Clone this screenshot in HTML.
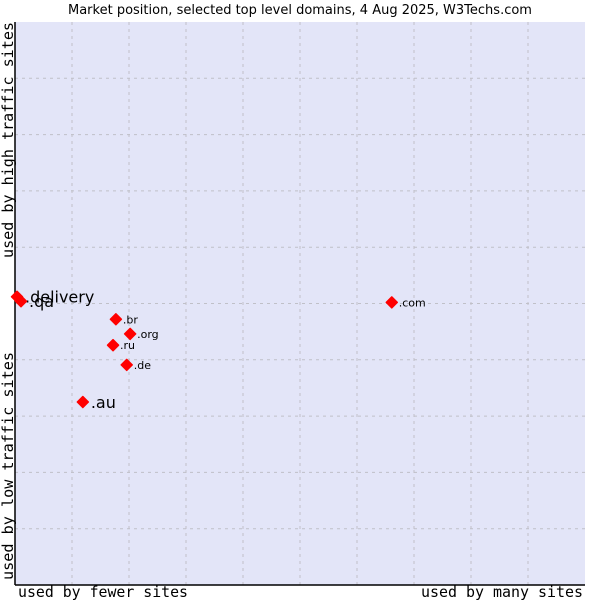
<!DOCTYPE html>
<html><head><meta charset="utf-8"><style>
body{margin:0;background:#fff;}
svg{display:block;font-family:"DejaVu Sans","Liberation Sans",sans-serif;}
</style></head><body>
<svg id="chart" width="600" height="600">
<rect x="0" y="0" width="600" height="600" fill="#fff"/>
<text x="300" y="14" text-anchor="middle" font-size="13" fill="#000">Market position, selected top level domains, 4 Aug 2025, W3Techs.com</text>
<rect x="15" y="22" width="570" height="563" fill="#e3e5f8" stroke="none"/>
<g id="grid"></g>
<line x1="15" y1="22" x2="15" y2="585" stroke="#000" stroke-width="1.5"/>
<line x1="15" y1="585" x2="585" y2="585" stroke="#000" stroke-width="1.5"/>
<g id="points"></g>
<text x="18" y="597" font-family="'DejaVu Sans Mono','Liberation Mono',monospace" font-size="15" textLength="170" lengthAdjust="spacingAndGlyphs">used by fewer sites</text>
<text x="421" y="597" font-family="'DejaVu Sans Mono','Liberation Mono',monospace" font-size="15" textLength="162" lengthAdjust="spacingAndGlyphs">used by many sites</text>
<text transform="translate(13,258) rotate(-90)" font-family="'DejaVu Sans Mono','Liberation Mono',monospace" font-size="15" textLength="236" lengthAdjust="spacingAndGlyphs">used by high traffic sites</text>
<text transform="translate(13,580) rotate(-90)" font-family="'DejaVu Sans Mono','Liberation Mono',monospace" font-size="15" textLength="228" lengthAdjust="spacingAndGlyphs">used by low traffic sites</text>
</svg>
<script>
const labels = [".delivery", ".qa", ".br", ".org", ".ru", ".de", ".au", ".com"];
const xValues = [0.35, 1.05, 17.7, 20.2, 17.2, 19.6, 11.9, 66.1];
const yValues = [51.2, 50.4, 47.2, 44.6, 42.6, 39.1, 32.5, 50.2];
const bigLabel = [true, true, false, false, false, false, true, false];

const NS = "http://www.w3.org/2000/svg";
const X0 = 15, X1 = 585, Y0 = 585, Y1 = 22;
function sx(v){ return X0 + v / 100 * (X1 - X0); }
function sy(v){ return Y0 - v / 100 * (Y0 - Y1); }

const grid = document.getElementById("grid");
for (let i = 1; i < 10; i++) {
  const gx = document.createElementNS(NS, "line");
  gx.setAttribute("x1", sx(i * 10)); gx.setAttribute("x2", sx(i * 10));
  gx.setAttribute("y1", Y1); gx.setAttribute("y2", Y0);
  gx.setAttribute("stroke", "#c0c0c8"); gx.setAttribute("stroke-dasharray", "3,4");
  
  
  grid.appendChild(gx);
  const gy = document.createElementNS(NS, "line");
  gy.setAttribute("y1", sy(i * 10)); gy.setAttribute("y2", sy(i * 10));
  gy.setAttribute("x1", X0); gy.setAttribute("x2", X1);
  gy.setAttribute("stroke", "#c0c0c8"); gy.setAttribute("stroke-dasharray", "3,4");
  
  
  grid.appendChild(gy);
}

const pts = document.getElementById("points");
for (let i = 0; i < labels.length; i++) {
  const cx = sx(xValues[i]), cy = sy(yValues[i]);
  const d = document.createElementNS(NS, "polygon");
  d.setAttribute("points", `${cx},${cy-5.5} ${cx+5.5},${cy} ${cx},${cy+5.5} ${cx-5.5},${cy}`);
  d.setAttribute("fill", "#ff0000");
  d.setAttribute("stroke", "#ff0000");
  d.setAttribute("stroke-linejoin", "round");
  d.setAttribute("stroke-width", "1.5");
  
  
  pts.appendChild(d);
  const t = document.createElementNS(NS, "text");
  const big = bigLabel[i];
  t.setAttribute("x", cx + (big ? 8 : 7));
  t.setAttribute("y", cy + (big ? 6 : 4));
  t.setAttribute("font-size", big ? 16 : 11);
  t.textContent = labels[i];
  
  
  pts.appendChild(t);
}
</script>
</body></html>
